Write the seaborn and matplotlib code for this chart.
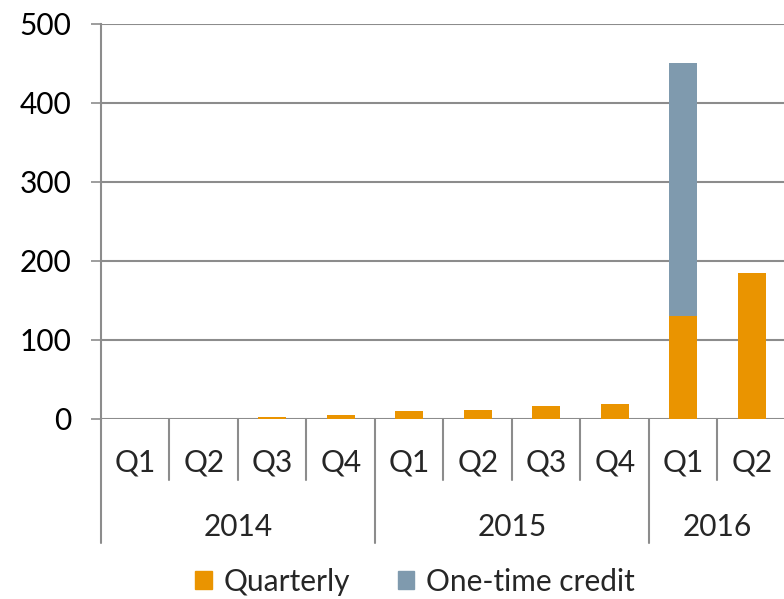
#!/usr/bin/env python
"""
  Quarterly vs one-time credit, stacked bars with a two-level quarter/year axis
"""

import matplotlib

matplotlib.use("Agg")
import matplotlib.pyplot as plt
from matplotlib.patches import Patch
import seaborn as sns
import pandas as pd

YEARS = ["2014", "2014", "2014", "2014", "2015", "2015", "2015", "2015", "2016", "2016"]
QUARTERS = ["Q1", "Q2", "Q3", "Q4", "Q1", "Q2", "Q3", "Q4", "Q1", "Q2"]
QUARTERLY = [0, 0, 2.5, 5, 9, 11, 16, 18, 130, 184]
ONE_TIME = [0, 0, 0, 0, 0, 0, 0, 0, 320, 0]

ORANGE = "#EA9400"
BLUEGREY = "#7F9AAE"
GRID = "#8C8C8C"
FONT = 21.5


def main():
    sns.set_theme(style="white")
    plt.rcParams["font.family"] = ["Lato", "DejaVu Sans"]

    frame = pd.DataFrame(
        {"year": YEARS, "quarter": QUARTERS, "quarterly": QUARTERLY, "onetime": ONE_TIME}
    )
    frame["label"] = frame["year"] + " " + frame["quarter"]
    frame["total"] = frame["quarterly"] + frame["onetime"]

    fig = plt.figure(figsize=(7.84, 5.99), dpi=100)
    ax = fig.add_axes([101 / 784, 1 - 418.5 / 599, 685 / 784, (418.5 - 23.7) / 599])

    sns.barplot(data=frame, x="label", y="total", color=BLUEGREY, width=0.41,
                saturation=1, linewidth=0, ax=ax, zorder=3)
    sns.barplot(data=frame, x="label", y="quarterly", color=ORANGE, width=0.41,
                saturation=1, linewidth=0, ax=ax, zorder=4)

    ax.set_xlim(-0.5, len(frame) - 0.5)
    ax.set_ylim(0, 500)
    ax.set_yticks(range(0, 501, 100))
    ax.yaxis.grid(True, color=GRID, linewidth=1.5, zorder=0)
    ax.set_axisbelow(True)
    ax.set(xlabel="", ylabel="")
    ax.set_xticks([])
    ax.tick_params(axis="y", which="major", left=True, length=7.2, width=1.2,
                   color=GRID, labelsize=FONT, pad=14, labelcolor="black")
    for side in ("top", "right", "bottom"):
        ax.spines[side].set_visible(False)
    ax.spines["left"].set_color(GRID)
    ax.spines["left"].set_linewidth(1.5)

    # two-level category axis below the plot
    trans = ax.get_xaxis_transform()
    px = 1 / ((418.5 - 23.7))  # one pixel in axes fraction (vertical)
    n = len(frame)
    for i in range(n + 1):
        edge = i - 0.5
        year_edge = i == 0 or i == n or YEARS[i] != YEARS[i - 1]
        depth = 124 if year_edge else 61
        ax.plot([edge, edge], [0, -depth * px], transform=trans, color=GRID,
                linewidth=1.5, clip_on=False)
    for i, q in enumerate(QUARTERS):
        ax.text(i, -44 * px, q, transform=trans, ha="center", va="center",
                fontsize=FONT)
    for year in dict.fromkeys(YEARS):
        idx = [i for i, y in enumerate(YEARS) if y == year]
        ax.text((idx[0] + idx[-1]) / 2, -108 * px, year, transform=trans,
                ha="center", va="center", fontsize=FONT)

    handles = [Patch(color=ORANGE, label="Quarterly"),
               Patch(color=BLUEGREY, label="One-time credit")]
    fig.legend(handles=handles, loc="center", bbox_to_anchor=(415 / 784, 1 - 582 / 599),
               ncol=2, frameon=False, fontsize=FONT, handlelength=0.55,
               handleheight=0.55, handletextpad=0.4, columnspacing=1.6)

    fig.savefig("out.png", dpi=100)


if __name__ == "__main__":
    main()
